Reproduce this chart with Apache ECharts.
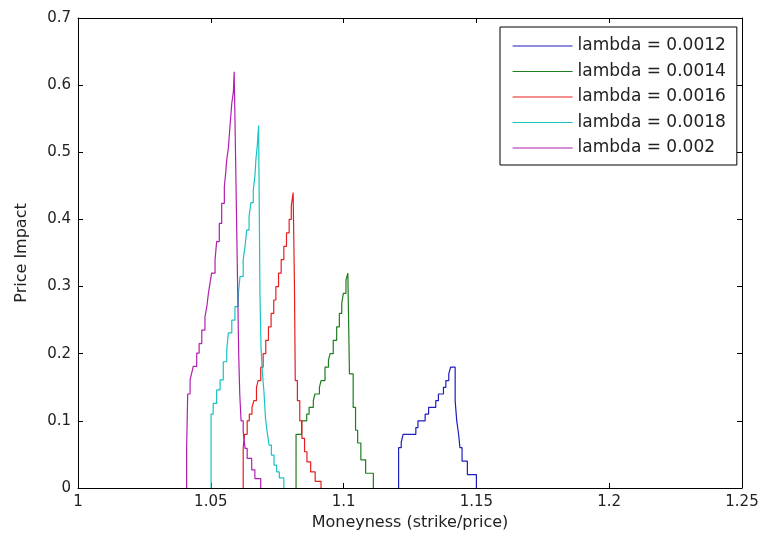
<!DOCTYPE html>
<html>
<head>
<meta charset="utf-8">
<script src="https://cdn.jsdelivr.net/npm/echarts@6/dist/echarts.min.js"></script>
<style>
html,body{margin:0;padding:0;background:#fff;}
#chart{width:770px;height:541px;}
</style>
</head>
<body>
<div id="chart"></div>
<script>
// Data (Matlab stairs plots)
var seriesNames = ['lambda = 0.0012', 'lambda = 0.0014', 'lambda = 0.0016', 'lambda = 0.0018', 'lambda = 0.002'];

var blueX = [1.1207, 1.1207, 1.1217, 1.1224, 1.1272, 1.1280, 1.1307, 1.1320, 1.1347, 1.1357, 1.1376, 1.1385, 1.1396, 1.1403, 1.1420, 1.1426, 1.1433, 1.1438, 1.1446, 1.1466, 1.1500];
var blueY = [0, 0.06, 0.068, 0.08, 0.09, 0.10, 0.11, 0.12, 0.13, 0.14, 0.15, 0.16, 0.17, 0.18, 0.13, 0.10, 0.08, 0.06, 0.04, 0.02, 0];

var greenX = [1.0821, 1.0821, 1.0842, 1.0861, 1.0870, 1.0886, 1.0892, 1.0909, 1.0915, 1.0930, 1.0943, 1.0949, 1.0961, 1.0974, 1.0984, 1.0993, 1.0999, 1.1009, 1.1016, 1.1022, 1.1036, 1.1045, 1.1053, 1.1065, 1.1083, 1.1112];
var greenY = [0, 0.08, 0.10, 0.11, 0.12, 0.13, 0.14, 0.15, 0.16, 0.18, 0.19, 0.20, 0.22, 0.24, 0.26, 0.275, 0.29, 0.31, 0.32, 0.17, 0.12, 0.086, 0.067, 0.042, 0.022, 0];

var redX = [1.0622, 1.0622, 1.0627, 1.0637, 1.0645, 1.0655, 1.0662, 1.0672, 1.0678, 1.0688, 1.0697, 1.0707, 1.0717, 1.0727, 1.0737, 1.0745, 1.0755, 1.0765, 1.0775, 1.0785, 1.0795, 1.0803, 1.0810, 1.0815, 1.0818, 1.0826, 1.0835, 1.0843, 1.0853, 1.0862, 1.0876, 1.0893, 1.0915];
var redY = [0, 0.06, 0.08, 0.10, 0.11, 0.12, 0.13, 0.15, 0.16, 0.18, 0.20, 0.22, 0.24, 0.26, 0.28, 0.30, 0.32, 0.34, 0.36, 0.38, 0.40, 0.42, 0.44, 0.30, 0.16, 0.13, 0.10, 0.074, 0.054, 0.039, 0.024, 0.01, 0];

var cyanX = [1.0501, 1.0501, 1.0509, 1.0522, 1.0535, 1.0547, 1.0560, 1.0566, 1.0579, 1.0591, 1.0604, 1.0610, 1.0622, 1.0629, 1.0635, 1.0644, 1.0651, 1.0660, 1.0666, 1.0670, 1.0675, 1.0680, 1.0685, 1.0689, 1.0694, 1.0700, 1.0706, 1.0712, 1.0719, 1.0728, 1.0738, 1.0748, 1.0758, 1.0775];
var cyanY = [0, 0.11, 0.126, 0.146, 0.161, 0.188, 0.206, 0.231, 0.25, 0.27, 0.29, 0.315, 0.34, 0.36, 0.384, 0.404, 0.425, 0.444, 0.464, 0.49, 0.51, 0.54, 0.29, 0.21, 0.173, 0.144, 0.104, 0.084, 0.064, 0.049, 0.034, 0.024, 0.015, 0];

var purpleX = [1.0409, 1.0409, 1.0413, 1.0422, 1.0428, 1.0434, 1.0447, 1.0456, 1.0466, 1.0478, 1.0485, 1.0491, 1.0497, 1.0503, 1.0516, 1.0522, 1.0532, 1.0541, 1.0551, 1.0556, 1.0560, 1.0566, 1.0572, 1.0579, 1.0585, 1.0588, 1.0593, 1.0597, 1.0601, 1.0605, 1.0609, 1.0614, 1.0622, 1.0629, 1.0637, 1.0654, 1.0666, 1.0688];
var purpleY = [0, 0.06, 0.14, 0.161, 0.171, 0.181, 0.201, 0.215, 0.235, 0.255, 0.27, 0.29, 0.305, 0.32, 0.34, 0.367, 0.394, 0.424, 0.449, 0.469, 0.489, 0.506, 0.538, 0.573, 0.59, 0.62, 0.50, 0.40, 0.30, 0.20, 0.14, 0.10, 0.084, 0.059, 0.044, 0.027, 0.014, 0];

var xTicks = { min: 1, max: 1.25, interval: 0.05 };
var yTicks = { min: 0, max: 0.7, interval: 0.1 };

var colors = ['#1c1cc0', '#1e7d1e', '#e61e1e', '#19c3c3', '#b01fb0'];
var xsAll = [blueX, greenX, redX, cyanX, purpleX];
var ysAll = [blueY, greenY, redY, cyanY, purpleY];

function pairs(xs, ys) {
  var out = [];
  for (var i = 0; i < xs.length; i++) out.push([xs[i], ys[i]]);
  return out;
}

var FONT = 'DejaVu Sans';
var txt = '#222';

var series = seriesNames.map(function (name, i) {
  return {
    name: name,
    type: 'line',
    step: 'end',
    symbol: 'circle',
    showSymbol: false,
    animation: false,
    lineStyle: { color: colors[i], width: 1.2 },
    itemStyle: { color: colors[i] },
    data: pairs(xsAll[i], ysAll[i])
  };
});

var axisLine = { show: true, onZero: false, lineStyle: { color: '#000', width: 1 } };
var axisTick = { show: true, inside: true, length: 5, lineStyle: { color: '#000', width: 1 } };

var chart = echarts.init(document.getElementById('chart'), null, { renderer: 'canvas' });
chart.setOption({
  backgroundColor: '#fff',
  animation: false,
  color: colors,
  grid: { left: 78, right: 28, top: 18, bottom: 53, containLabel: false },
  legend: {
    orient: 'vertical',
    left: 500,
    top: 27,
    padding: [9, 11, 7, 12],
    itemGap: 5.5,
    itemWidth: 60,
    itemHeight: 14,
    borderColor: '#000',
    borderWidth: 1,
    backgroundColor: '#fff',
    borderRadius: 0,
    itemStyle: { color: 'rgba(0,0,0,0)', borderWidth: 0, opacity: 0 },
    lineStyle: { width: 1.2 },
    textStyle: { fontFamily: FONT, fontSize: 17, color: txt, lineHeight: 20 },
    data: seriesNames
  },
  xAxis: [{
    type: 'value',
    position: 'bottom',
    min: xTicks.min, max: xTicks.max, interval: xTicks.interval,
    name: 'Moneyness (strike/price)',
    nameLocation: 'middle',
    nameGap: 27,
    nameTextStyle: { fontFamily: FONT, fontSize: 16, color: txt },
    axisLine: axisLine,
    axisTick: axisTick,
    splitLine: { show: false },
    axisLabel: { fontFamily: FONT, fontSize: 15, color: txt, margin: 7 }
  }, {
    type: 'value',
    position: 'top',
    min: xTicks.min, max: xTicks.max, interval: xTicks.interval,
    axisLine: axisLine,
    axisTick: axisTick,
    splitLine: { show: false },
    axisLabel: { show: false }
  }],
  yAxis: [{
    type: 'value',
    position: 'left',
    min: yTicks.min, max: yTicks.max, interval: yTicks.interval,
    name: 'Price Impact',
    nameLocation: 'middle',
    nameGap: 48,
    nameTextStyle: { fontFamily: FONT, fontSize: 16, color: txt },
    axisLine: axisLine,
    axisTick: axisTick,
    splitLine: { show: false },
    axisLabel: { fontFamily: FONT, fontSize: 15, color: txt, margin: 7 }
  }, {
    type: 'value',
    position: 'right',
    min: yTicks.min, max: yTicks.max, interval: yTicks.interval,
    axisLine: axisLine,
    axisTick: axisTick,
    splitLine: { show: false },
    axisLabel: { show: false }
  }],
  series: series
});
</script>
</body>
</html>
